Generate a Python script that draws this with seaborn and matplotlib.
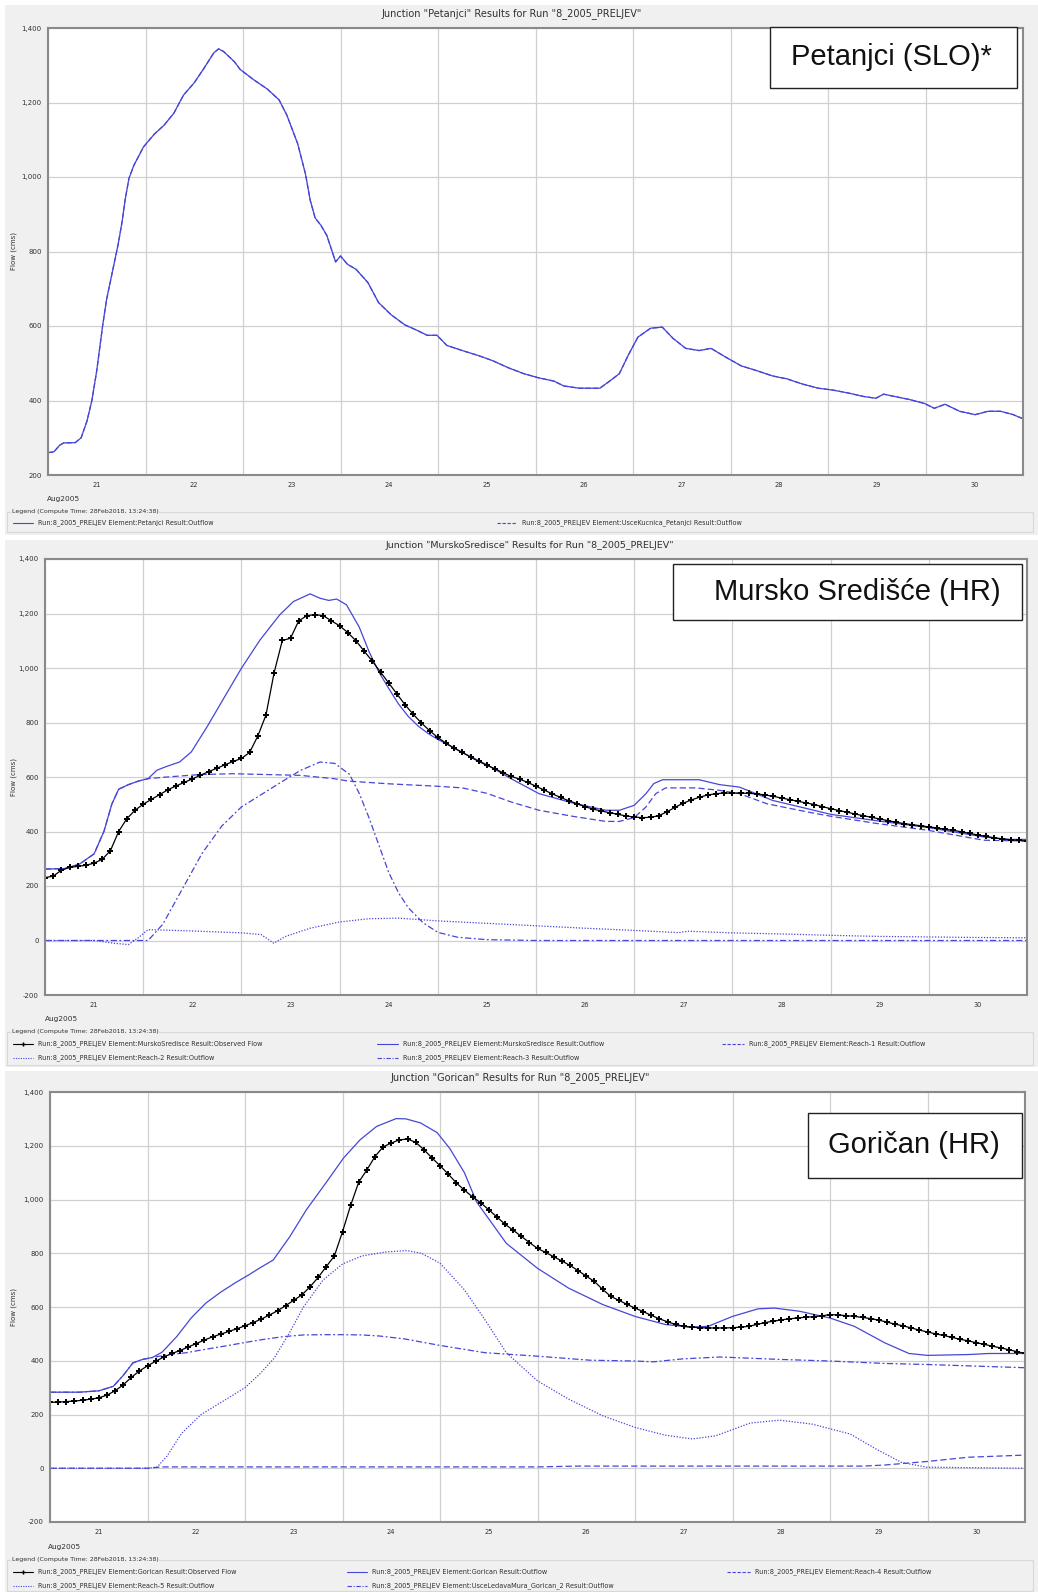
import numpy as np
import pandas as pd
import matplotlib
matplotlib.use("Agg")
import matplotlib.pyplot as plt
import seaborn as sns
from matplotlib.patches import Rectangle
from matplotlib.lines import Line2D

# ---- data (day of Aug 2005, flow in cms) ----
day_labels = ["21", "22", "23", "24", "25", "26", "27", "28", "29", "30"]

# Petanjci outflow
pet_t = [21.0, 21.06, 21.12, 21.16, 21.28, 21.34, 21.4, 21.45, 21.5, 21.56, 21.6, 21.66, 21.72, 21.76,
         21.79, 21.83, 21.88, 21.98, 22.09, 22.19, 22.29, 22.39, 22.5, 22.6, 22.7, 22.75, 22.8, 22.91,
         22.97, 23.11, 23.25, 23.37, 23.45, 23.56, 23.64, 23.69, 23.74, 23.8, 23.86, 23.95, 24.0, 24.07,
         24.16, 24.28, 24.39, 24.52, 24.66, 24.78, 24.89, 24.99, 25.09, 25.25, 25.41, 25.56, 25.72,
         25.88, 26.03, 26.19, 26.29, 26.45, 26.66, 26.76, 26.86, 26.95, 27.05, 27.18, 27.3, 27.41,
         27.54, 27.68, 27.8, 27.96, 28.11, 28.27, 28.43, 28.58, 28.74, 28.9, 29.05, 29.21, 29.36,
         29.49, 29.57, 29.68, 29.83, 29.99, 30.09, 30.2, 30.35, 30.51, 30.64, 30.77, 30.9, 31.0]
pet_v = [260, 262, 280, 286, 287, 300, 345, 400, 480, 600, 670, 745, 820, 880,
         937, 996, 1031, 1081, 1115, 1139, 1171, 1220, 1253, 1292, 1333, 1344, 1337, 1310,
         1289, 1261, 1236, 1207, 1166, 1090, 1009, 937, 890, 870, 843, 772, 788, 766,
         752, 717, 663, 630, 603, 589, 575, 575, 548, 534, 521, 507, 488,
         472, 461, 452, 439, 433, 433, 452, 472, 521, 570, 594, 597, 567,
         540, 534, 540, 515, 493, 480, 466, 458, 444, 433, 428, 420, 411,
         406, 417, 411, 403, 392, 379, 390, 371, 362, 371, 371, 362, 351]

# Mursko Sredisce observed flow, every 2 hours from 21 Aug 00:00
mur_obs = [231, 236, 258, 268, 272, 276, 284, 298, 330, 400, 447, 478, 500, 518, 535, 553, 567, 580,
           593, 606, 620, 632, 645, 657, 668, 690, 750, 827, 983, 1101, 1109, 1173, 1192, 1196,
           1192, 1173, 1155, 1130, 1100, 1062, 1025, 985, 945, 905, 865, 830, 798, 770, 745, 724,
           706, 690, 673, 657, 643, 630, 615, 602, 592, 580,
           566, 552, 538, 525, 513, 502, 491, 482, 475, 469, 463, 457, 453, 451, 452, 458, 472,
           489, 504, 516, 526, 534, 539, 541, 541, 541, 540, 538, 534, 529, 523, 517, 511, 505,
           499, 491, 484, 477, 471, 464, 458, 452, 446, 440, 434, 429, 425, 421, 417, 413, 408,
           404, 399, 393, 387, 382, 377, 373, 370, 367, 365]

mur_out_t = [21.0, 21.2, 21.35, 21.5, 21.6, 21.68, 21.75, 21.85, 21.95, 22.05, 22.14, 22.24, 22.37,
             22.49, 22.65, 22.85, 23.0, 23.19, 23.39, 23.53, 23.7, 23.8, 23.89, 23.97, 24.07, 24.2,
             24.3, 24.4, 24.5, 24.6, 24.7, 24.8, 24.9, 25.0, 25.25, 25.5, 25.75, 26.03, 26.37, 26.71,
             26.85, 27.0, 27.12, 27.2, 27.29, 27.66, 27.87, 28.07, 28.24, 28.41, 28.76, 29.0, 29.44,
             30.0, 30.56, 30.8, 31.0]
mur_out_v = [262, 264, 280, 318, 400, 500, 555, 572, 585, 594, 625, 639, 655,
             692, 784, 907, 999, 1103, 1195, 1244, 1272, 1256, 1248, 1253, 1232, 1150,
             1060, 985, 925, 868, 822, 787, 760, 738, 690, 645, 593, 539, 505, 478,
             478, 496, 539, 576, 590, 590, 572, 563, 539, 514, 484, 463, 441,
             414, 380, 371, 371]

reach1_t = [21.0, 21.2, 21.35, 21.5, 21.6, 21.68, 21.75, 21.85, 21.95, 22.05, 22.24, 22.58, 22.91,
            23.26, 23.6, 23.94, 24.09, 24.5, 25.0, 25.25, 25.5, 25.75, 26.03, 26.37, 26.71, 26.85,
            27.0, 27.12, 27.22, 27.32, 27.63, 27.87, 28.07, 28.35, 28.76, 29.0, 29.44, 30.0, 30.56, 31.0]
reach1_v = [262, 264, 280, 318, 400, 500, 555, 572, 585, 594, 600, 609, 612,
            609, 606, 594, 585, 575, 566, 560, 540, 508, 478, 456, 437, 437,
            451, 490, 539, 560, 560, 551, 539, 502, 472, 456, 431, 404, 368, 365]

reach2_t = [21.0, 21.5, 21.7, 21.85, 21.95, 22.05, 22.5, 23.0, 23.2, 23.33, 23.45, 23.7, 24.0, 24.3,
            24.6, 25.0, 25.5, 26.0, 26.5, 27.0, 27.45, 27.55, 28.0, 28.5, 29.0, 29.5, 30.0, 30.5, 31.0]
reach2_v = [0, 0, -10, -15, 10, 40, 35, 28, 22, -10, 15, 45, 68, 80,
            82, 72, 63, 54, 45, 37, 29, 34, 28, 24, 19, 15, 13, 11, 10]

reach3_t = [21.0, 22.05, 22.2, 22.4, 22.6, 22.8, 23.0, 23.2, 23.4, 23.6, 23.8, 23.95, 24.1, 24.2,
            24.3, 24.4, 24.5, 24.6, 24.7, 24.85, 25.0, 25.2, 25.5, 26.0, 31.0]
reach3_v = [0, 0, 60, 190, 320, 420, 490, 535, 580, 624, 655, 650, 610, 540,
            450, 350, 250, 175, 120, 65, 30, 12, 3, 0, 0]

# Gorican observed flow, every 2 hours from 21 Aug 00:00
gor_obs = [245, 246, 248, 250, 253, 257, 262, 272, 288, 310, 338, 362, 381, 398, 414, 427, 438, 451,
           464, 477, 489, 499, 509, 519, 530, 542, 555, 570, 586, 605, 625, 645, 675, 710, 750, 790,
           880, 978, 1065, 1110, 1160, 1196, 1210, 1222, 1225, 1213, 1186, 1155, 1126, 1095, 1062,
           1035, 1010, 988, 962, 935, 908, 886, 863, 840, 818, 803, 787, 771, 755, 735, 715, 695,
           666, 640, 625, 610, 596, 583, 569, 556, 545, 535, 528, 525, 523, 522, 522, 522, 523,
           525, 528, 535, 542, 547, 552, 556, 559, 562, 564, 567, 572, 570, 568, 565, 561, 557,
           551, 544, 536, 530, 522, 514, 507, 500, 494, 487, 480, 474, 467, 461, 454, 448, 441,
           434, 427]

gor_out_t = [21.0, 21.3, 21.5, 21.65, 21.75, 21.85, 21.95, 22.05, 22.15, 22.3, 22.45, 22.6, 22.75,
             22.9, 23.05, 23.15, 23.29, 23.46, 23.63, 23.84, 24.01, 24.18, 24.35, 24.55, 24.65, 24.8,
             24.97, 25.1, 25.25, 25.375, 25.68, 26.0, 26.32, 26.67, 27.0, 27.31, 27.57, 27.75, 28.0,
             28.26, 28.43, 28.69, 29.0, 29.25, 29.56, 29.81, 30.0, 30.41, 30.63, 31.0]
gor_out_v = [283, 283, 288, 305, 345, 392, 405, 412, 432, 490, 560, 615, 655,
             690, 722, 745, 775, 862, 962, 1067, 1154, 1222, 1272, 1301, 1300, 1285,
             1249, 1190, 1100, 991, 837, 744, 670, 609, 565, 535, 525, 528, 565,
             593, 596, 584, 559, 528, 467, 427, 420, 423, 427, 427]

reach4_t = [21.0, 22.0, 22.15, 26.0, 26.4, 29.34, 29.56, 29.99, 30.42, 31.0]
reach4_v = [0, 0, 5, 5, 8, 8, 12, 25, 41, 49]

reach5_t = [21.0, 22.0, 22.1, 22.2, 22.35, 22.55, 22.8, 23.0, 23.15, 23.3, 23.45, 23.6, 23.8, 24.0,
            24.2, 24.45, 24.66, 24.81, 25.0, 25.25, 25.46, 25.68, 26.0, 26.32, 26.67, 27.0, 27.31,
            27.59, 27.83, 28.18, 28.48, 28.82, 29.21, 29.47, 29.73, 29.99, 31.0]
reach5_v = [0, 0, 5, 45, 130, 200, 255, 300, 350, 410, 500, 600, 700, 760,
            790, 805, 810, 800, 763, 664, 553, 430, 325, 257, 195, 152, 123,
            109, 121, 168, 179, 164, 127, 72, 22, 4, 0]

usce_t = [21.0, 21.3, 21.5, 21.65, 21.75, 21.85, 21.95, 22.05, 22.2, 22.4, 22.6, 22.8, 23.0, 23.2,
          23.4, 23.6, 23.8, 24.0, 24.2, 24.38, 24.64, 25.0, 25.46, 26.0, 26.54, 27.0, 27.19, 27.49,
          27.87, 28.48, 29.0, 29.56, 30.0, 31.0]
usce_v = [283, 283, 288, 305, 345, 392, 405, 412, 422, 430, 443, 455, 468, 480,
          490, 496, 497, 497, 496, 492, 481, 457, 430, 417, 402, 399, 396, 407,
          414, 405, 399, 390, 386, 374]

# ---- look ----
sns.set_theme(style="white")
plt.rcParams["font.family"] = ["DejaVu Sans"]

W, H = 1038, 1592
fig = plt.figure(figsize=(W / 100, H / 100), dpi=100)
fig.patch.set_facecolor("white")

BLUE = "#4646d8"
BG = "#f0f0f0"
TXT = "#303030"


def fx(x):
    return x / W


def fy(y):
    return 1 - y / H


# grey panel backgrounds
for top, bot in [(5, 535), (540, 1067), (1071, 1592)]:
    fig.add_artist(Rectangle((fx(5), fy(bot)), (W - 5) / W, (bot - top) / H,
                             transform=fig.transFigure, facecolor=BG, edgecolor="none", zorder=-5))


def make_ax(left, top, right, bottom, ymin):
    ax = fig.add_axes([fx(left), fy(bottom), (right - left) / W, (bottom - top) / H])
    ax.set_facecolor("white")
    ax.set_xlim(21, 31)
    ax.set_ylim(ymin, 1400)
    yt = list(range(ymin, 1401, 200))
    ax.set_yticks(yt)
    ax.set_yticklabels([f"{v:,}" for v in yt])
    ax.set_xticks(range(21, 32))
    ax.set_xticklabels([])
    ax.set_xticks(np.arange(21.5, 31, 1), minor=True)
    ax.set_xticklabels(day_labels, minor=True)
    ax.tick_params(axis="x", which="major", length=7, width=0.9, color="#222222", direction="out")
    ax.tick_params(axis="x", which="minor", length=0, pad=5, labelsize=4.8, labelcolor=TXT)
    ax.tick_params(axis="y", length=3, width=0.8, color="#555555", pad=1.5, labelsize=5, labelcolor=TXT)
    ax.grid(True, which="major", color="#d0d0d0", lw=0.9)
    for s in ax.spines.values():
        s.set_color("#8a8a8a")
        s.set_linewidth(1.5)
    ax.set_ylabel("Flow (cms)", fontsize=5, color=TXT)
    ax.yaxis.set_label_coords(-(left - 17) / (right - left), 0.5)
    return ax


def draw(ax, t, v, dash=None, lw=0.9, color=BLUE):
    sns.lineplot(x=t, y=v, ax=ax, color=color, lw=lw, estimator=None, sort=False)
    if dash is not None:
        ax.lines[-1].set_dashes(dash)


def draw_obs(ax, vals):
    t = 21 + np.arange(len(vals)) / 12
    sns.lineplot(x=t, y=vals, ax=ax, color="black", lw=0.9, marker="P", markersize=4.4,
                 markeredgewidth=0, estimator=None, sort=False)


def legend(title_y, rows, box_bottom, aug_xy):
    fig.text(fx(aug_xy[0]), fy(aug_xy[1]), "Aug2005", fontsize=5.3, color=TXT, va="center")
    fig.add_artist(Rectangle((fx(7), fy(box_bottom)), (W - 12) / W, (box_bottom - title_y) / H,
                             transform=fig.transFigure, facecolor="none", edgecolor="#d8d8d8", lw=0.8))
    fig.text(fx(12), fy(title_y), "Legend (Compute Time: 28Feb2018, 13:24:38)", fontsize=4.5,
             color=TXT, va="center", bbox=dict(facecolor=BG, edgecolor="none", pad=0.5))
    for (x0, x1, y, kind, label) in rows:
        color = "black" if kind == "obs" else BLUE
        ln = Line2D([fx(x0), fx(x1)], [fy(y), fy(y)], transform=fig.transFigure, color=color, lw=0.8)
        if kind == "dash":
            ln.set_dashes((3, 1.5))
        elif kind == "dot":
            ln.set_dashes((1, 1.2))
        elif kind == "dashdot":
            ln.set_dashes((4, 1.5, 1, 1.5))
        fig.add_artist(ln)
        if kind == "obs":
            fig.add_artist(Line2D([fx((x0 + x1) / 2)], [fy(y)], transform=fig.transFigure,
                                  marker="P", markersize=3, color="black", markeredgewidth=0))
        fig.text(fx(x1 + 5), fy(y), label, fontsize=4.7, color=TXT, va="center")


def big_label(x0, y0, x1, y1, text, cx, cy):
    fig.add_artist(Rectangle((fx(x0), fy(y1)), (x1 - x0) / W, (y1 - y0) / H,
                             transform=fig.transFigure, facecolor="white", edgecolor="#222222",
                             lw=1, zorder=10))
    fig.text(fx(cx), fy(cy), text, fontsize=21, family=["Liberation Sans", "DejaVu Sans"],
             ha="center", va="center", color="#111111", zorder=11)


# ---- panel 1: Petanjci ----
ax1 = make_ax(48, 28, 1023, 475, 200)
draw(ax1, pet_t, pet_v)
draw(ax1, pet_t, pet_v, dash=(4, 2))
fig.text(fx(512), fy(14), 'Junction "Petanjci" Results for Run "8_2005_PRELJEV"',
         ha="center", va="center", fontsize=7, color=TXT)
legend(512, [(13, 33, 523, "solid", "Run:8_2005_PRELJEV Element:Petanjci Result:Outflow"),
             (497, 517, 523, "dash", "Run:8_2005_PRELJEV Element:UsceKucnica_Petanjci Result:Outflow")],
       532, (47, 499))
big_label(770, 27, 1017, 88, "Petanjci (SLO)*", 891, 57)

# ---- panel 2: Mursko Sredisce ----
ax2 = make_ax(45, 559, 1027, 995, -200)
draw(ax2, reach3_t, reach3_v, dash=(5, 2, 1.5, 2))
draw(ax2, reach2_t, reach2_v, dash=(1, 1.3))
draw(ax2, reach1_t, reach1_v, dash=(5, 2.5))
draw(ax2, mur_out_t, mur_out_v)
draw_obs(ax2, mur_obs)
fig.text(fx(530), fy(546), 'Junction "MurskoSredisce" Results for Run "8_2005_PRELJEV"',
         ha="center", va="center", fontsize=6.8, color=TXT)
legend(1032, [(13, 33, 1044, "obs", "Run:8_2005_PRELJEV Element:MurskoSredisce Result:Observed Flow"),
              (377, 398, 1044, "solid", "Run:8_2005_PRELJEV Element:MurskoSredisce Result:Outflow"),
              (722, 744, 1044, "dash", "Run:8_2005_PRELJEV Element:Reach-1 Result:Outflow"),
              (13, 33, 1058, "dot", "Run:8_2005_PRELJEV Element:Reach-2 Result:Outflow"),
              (377, 398, 1058, "dashdot", "Run:8_2005_PRELJEV Element:Reach-3 Result:Outflow")],
       1065, (45, 1019))
big_label(673, 564, 1022, 620, "Mursko Središće (HR)", 857, 592)

# ---- panel 3: Gorican ----
ax3 = make_ax(50, 1092, 1025, 1522, -200)
draw(ax3, reach4_t, reach4_v, dash=(5, 2.5))
draw(ax3, reach5_t, reach5_v, dash=(1, 1.3))
draw(ax3, usce_t, usce_v, dash=(5, 2, 1.5, 2))
draw(ax3, gor_out_t, gor_out_v)
draw_obs(ax3, gor_obs)
fig.text(fx(520), fy(1078), 'Junction "Gorican" Results for Run "8_2005_PRELJEV"',
         ha="center", va="center", fontsize=7, color=TXT)
legend(1560, [(13, 33, 1572, "obs", "Run:8_2005_PRELJEV Element:Gorican Result:Observed Flow"),
              (347, 367, 1572, "solid", "Run:8_2005_PRELJEV Element:Gorican Result:Outflow"),
              (727, 750, 1572, "dash", "Run:8_2005_PRELJEV Element:Reach-4 Result:Outflow"),
              (13, 33, 1586, "dot", "Run:8_2005_PRELJEV Element:Reach-5 Result:Outflow"),
              (347, 367, 1586, "dashdot", "Run:8_2005_PRELJEV Element:UsceLedavaMura_Gorican_2 Result:Outflow")],
       1591, (48, 1547))
big_label(808, 1113, 1022, 1178, "Goričan (HR)", 914, 1145)

fig.savefig("out.png", dpi=100, facecolor="white")
